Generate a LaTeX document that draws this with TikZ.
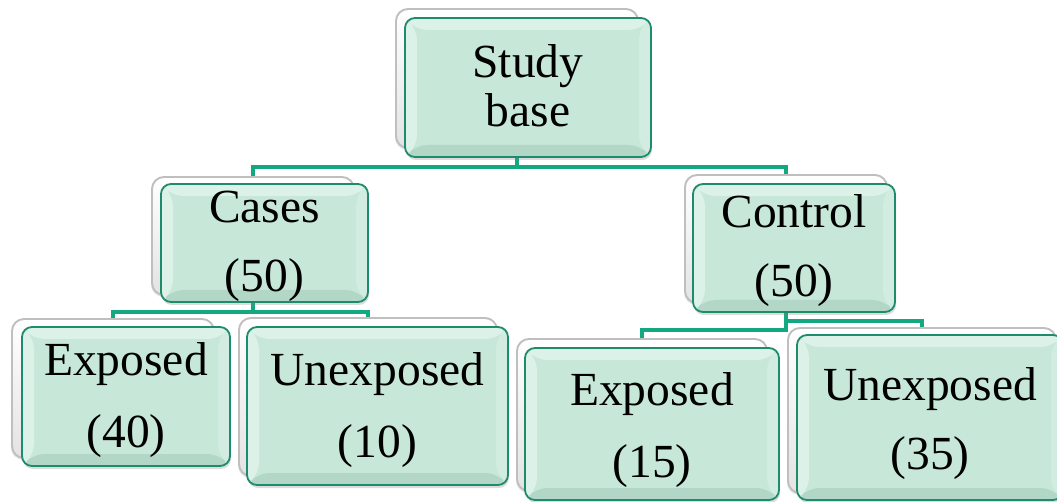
\documentclass[tikz,border=0pt]{standalone}
\usepackage{fontspec}
\setmainfont{Liberation Serif}
\usetikzlibrary{calc,shadows,backgrounds}

\definecolor{mint}{HTML}{C7E8D9}
\definecolor{mintlite}{HTML}{DCF1E7}
\definecolor{mintside}{HTML}{D3ECE1}
\definecolor{mintdark}{HTML}{B3D7C6}
\definecolor{rim}{HTML}{1E8B6D}
\definecolor{linkgreen}{HTML}{13A87F}

% bevelled face of a front card, clipped to the card outline
\newcommand{\bevelface}{%
  \coordinate (bNW) at (path picture bounding box.north west);
  \coordinate (bNE) at (path picture bounding box.north east);
  \coordinate (bSW) at (path picture bounding box.south west);
  \coordinate (bSE) at (path picture bounding box.south east);
  \fill[mintlite] (bNW) -- (bNE) -- ([xshift=-12pt,yshift=-12pt]bNE)
    -- ([xshift=12pt,yshift=-12pt]bNW) -- cycle;
  \fill[mintlite] (bNW) -- (bSW) -- ([xshift=12pt,yshift=12pt]bSW)
    -- ([xshift=12pt,yshift=-12pt]bNW) -- cycle;
  \fill[mintside] (bNE) -- (bSE) -- ([xshift=-12pt,yshift=12pt]bSE)
    -- ([xshift=-12pt,yshift=-12pt]bNE) -- cycle;
  \fill[mintdark] (bSW) -- (bSE) -- ([xshift=-12pt,yshift=12pt]bSE)
    -- ([xshift=12pt,yshift=12pt]bSW) -- cycle;
}

\tikzset{
  x=1pt, y=-1pt,
  frontcard/.style={anchor=north west, inner sep=0pt, outer sep=0pt,
    rounded corners=10pt, fill=mint, draw=rim, line width=1.8pt,
    drop shadow={shadow xshift=1pt, shadow yshift=-3pt, opacity=0.28},
    path picture={\bevelface}},
  backcard/.style={anchor=north west, inner sep=0pt, outer sep=0pt,
    rounded corners=12pt, top color=white, bottom color=gray!22,
    draw=gray!50, line width=1.9pt,
    drop shadow={shadow xshift=-1pt, shadow yshift=-2pt, opacity=0.18}},
  cardtext/.style={anchor=base, inner sep=0pt,
    font=\fontsize{47.5pt}{50pt}\selectfont},
  link/.style={draw=linkgreen, line width=4pt}
}

\begin{document}
\begin{tikzpicture}
\useasboundingbox (0,0) rectangle (1057,502);

% Study base
\node[backcard, minimum width=242pt, minimum height=139pt] (sbB) at (396,9) {};
\node[frontcard, minimum width=246pt, minimum height=139pt] (sb) at (405,18) {};
\node[cardtext] (sb1) at (528,78) {Study};
\node[cardtext] (sb2) at (528,127) {base};

% Cases
\node[backcard, minimum width=202pt, minimum height=118pt] (csB) at (152,177) {};
\node[frontcard, minimum width=207pt, minimum height=118pt] (cs) at (161,184) {};
\node[cardtext] (cs1) at (264.5,223) {Cases};
\node[cardtext] (cs2) at (264.5,292) {(50)};

% Control
\node[backcard, minimum width=202pt, minimum height=128pt] (ctB) at (685,175) {};
\node[frontcard, minimum width=202pt, minimum height=128pt] (ct) at (693,184) {};
\node[cardtext] (ct1) at (794,228) {Control};
\node[cardtext] (ct2) at (794,297) {(50)};

% Exposed (40)
\node[backcard, minimum width=202pt, minimum height=139pt] (e1B) at (12,319) {};
\node[frontcard, minimum width=208pt, minimum height=139pt] (e1) at (22,327) {};
\node[cardtext] (e11) at (126,375) {Exposed};
\node[cardtext] (e12) at (126,447) {(40)};

% Unexposed (10)
\node[backcard, minimum width=258pt, minimum height=158pt] (u1B) at (239,318) {};
\node[frontcard, minimum width=261pt, minimum height=158pt] (u1) at (247,327) {};
\node[cardtext] (u11) at (377.5,385) {Unexposed};
\node[cardtext] (u12) at (377.5,457) {(10)};

% Exposed (15)
\node[backcard, minimum width=250pt, minimum height=152pt] (e2B) at (517,339) {};
\node[frontcard, minimum width=254pt, minimum height=152pt] (e2) at (525,348) {};
\node[cardtext] (e21) at (652,405) {Exposed};
\node[cardtext] (e22) at (652,477) {(15)};

% Unexposed (35)
\node[backcard, minimum width=268pt, minimum height=165pt] (u2B) at (788,328) {};
\node[frontcard, minimum width=266pt, minimum height=165pt] (u2) at (797,335) {};
\node[cardtext] (u21) at (930,400) {Unexposed};
\node[cardtext] (u22) at (930,469) {(35)};

% elbow connectors behind the cards
\begin{scope}[on background layer]
  \draw[link] (sbB.south) -- (sbB.south |- 0,167) -| (csB.north);
  \draw[link] (sbB.south) -- (sbB.south |- 0,167) -| (ctB.north);
  \draw[link] (csB.south) -- (csB.south |- 0,312) -| (e1B.north);
  \draw[link] (csB.south) -- (csB.south |- 0,312) -| (u1B.north);
  \draw[link] (ctB.south) -- (ctB.south |- 0,330) -| (e2B.north);
  \draw[link] (ctB.south) -- (ctB.south |- 0,321) -| (u2B.north);
\end{scope}
\end{tikzpicture}
\end{document}
